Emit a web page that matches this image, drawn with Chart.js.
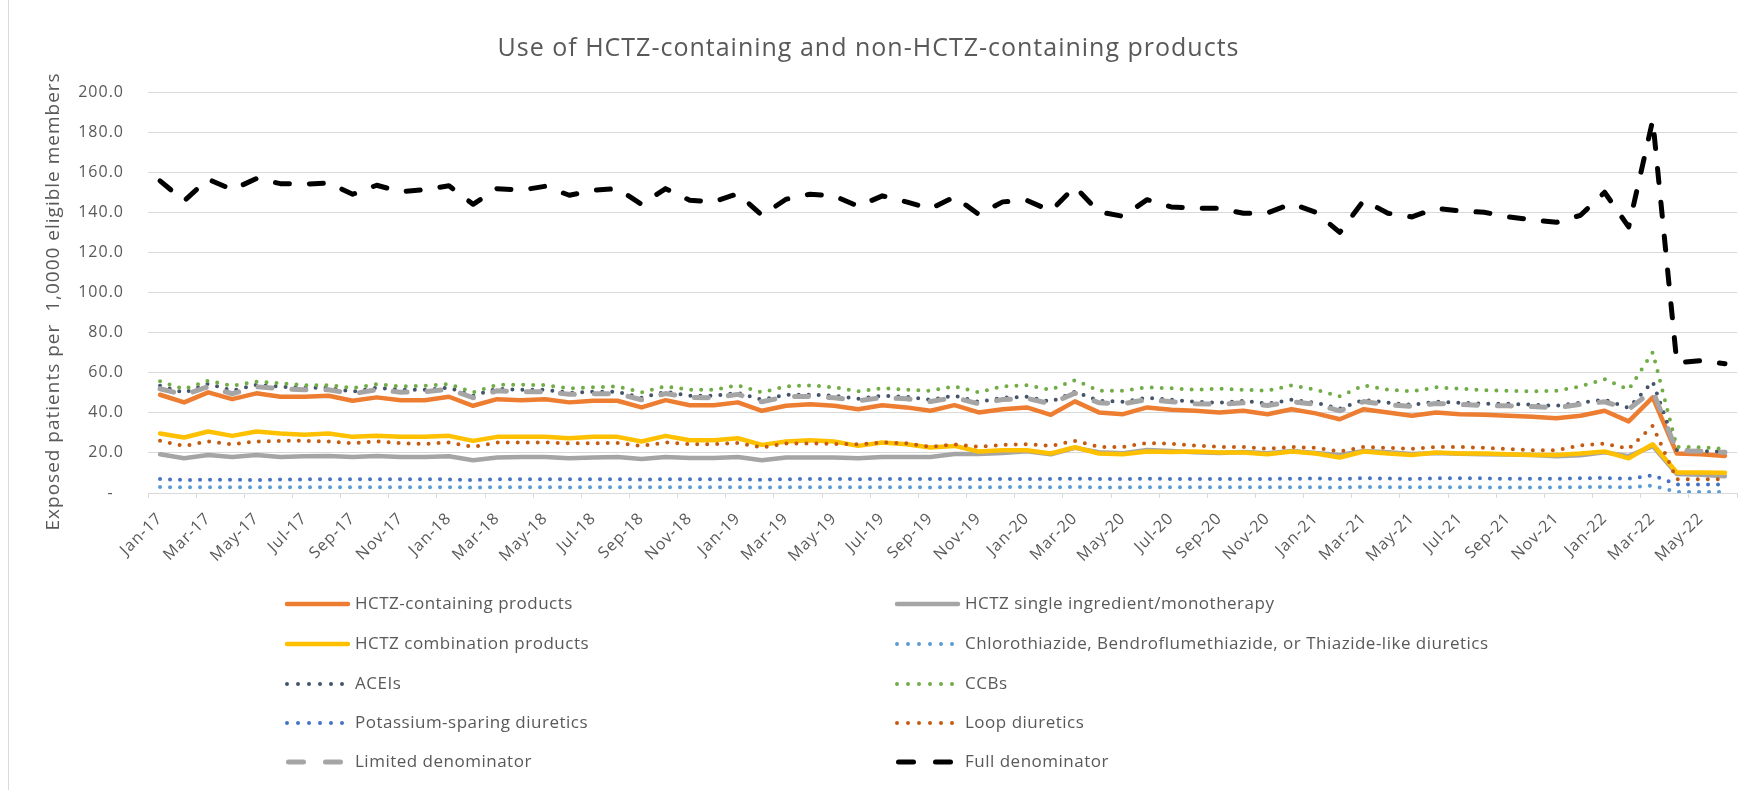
<!DOCTYPE html>
<html>
<head>
<meta charset="utf-8">
<script src="https://cdn.jsdelivr.net/npm/chart.js@4/dist/chart.umd.min.js"></script>
<style>
  html, body { margin: 0; padding: 0; background: #ffffff; }
  #wrap { width: 1758px; height: 790px; }
</style>
</head>
<body>
<div id="wrap"><canvas id="c" width="1758" height="790"></canvas></div>
<script>
const months = [
  'Jan-17','Feb-17','Mar-17','Apr-17','May-17','Jun-17','Jul-17','Aug-17','Sep-17','Oct-17','Nov-17','Dec-17',
  'Jan-18','Feb-18','Mar-18','Apr-18','May-18','Jun-18','Jul-18','Aug-18','Sep-18','Oct-18','Nov-18','Dec-18',
  'Jan-19','Feb-19','Mar-19','Apr-19','May-19','Jun-19','Jul-19','Aug-19','Sep-19','Oct-19','Nov-19','Dec-19',
  'Jan-20','Feb-20','Mar-20','Apr-20','May-20','Jun-20','Jul-20','Aug-20','Sep-20','Oct-20','Nov-20','Dec-20',
  'Jan-21','Feb-21','Mar-21','Apr-21','May-21','Jun-21','Jul-21','Aug-21','Sep-21','Oct-21','Nov-21','Dec-21',
  'Jan-22','Feb-22','Mar-22','Apr-22','May-22','Jun-22'
];

const hctzContaining = [
  49.0,45.2,50.2,46.8,49.7,48.0,48.0,48.5,46.0,47.7,46.3,46.3,
  48.0,43.5,46.8,46.3,46.8,45.2,46.0,46.0,42.7,46.3,43.8,43.8,
  45.2,41.0,43.5,44.3,43.5,41.8,43.8,42.7,41.0,43.8,40.2,41.8,
  42.7,39.0,45.7,40.2,39.3,42.7,41.5,41.0,40.2,41.0,39.3,41.8,
  39.7,36.8,41.8,40.2,38.5,40.2,39.3,39.0,38.5,38.0,37.3,38.5,
  41.0,35.7,47.7,19.7,19.3,18.5
];
const hctzSingle = [
  19.3,17.3,19.0,18.0,19.0,18.0,18.3,18.5,18.0,18.5,18.0,18.0,
  18.3,16.3,17.7,18.0,18.0,17.3,17.7,18.0,17.0,18.0,17.5,17.5,
  18.0,16.3,17.7,17.7,17.7,17.3,18.0,18.0,18.0,19.5,19.5,20.0,
  20.8,19.3,22.5,20.3,19.8,21.5,21.0,20.3,20.0,20.5,19.8,21.0,
  20.0,19.0,21.0,20.3,19.5,20.0,19.6,19.3,19.2,19.0,18.3,18.8,
  20.3,18.4,23.4,9.5,9.1,8.4
];
const hctzCombination = [
  29.7,27.7,30.7,28.5,30.7,29.7,29.0,29.7,28.0,28.5,28.0,28.0,
  28.5,26.0,28.0,28.0,28.0,27.3,28.0,28.0,25.7,28.5,26.3,26.3,
  27.3,24.0,25.7,26.3,25.7,23.5,25.2,24.3,22.7,23.5,20.7,21.3,
  21.3,19.7,22.8,19.7,19.3,20.7,20.5,20.7,20.2,20.2,19.3,20.7,
  19.7,17.7,20.7,19.7,19.0,20.2,19.7,19.7,19.3,19.0,19.0,19.7,
  20.7,17.3,24.3,10.2,10.2,10.1
];
const chlorothiazide = [
  3.0,2.8,2.9,2.8,2.9,2.9,2.9,2.9,2.8,2.9,2.9,2.9,
  2.9,2.7,2.9,2.9,2.9,2.8,2.9,2.9,2.8,2.9,2.9,2.9,
  2.9,2.7,2.9,2.9,2.9,2.8,2.9,2.9,2.8,2.9,2.8,2.9,
  3.0,2.8,3.1,2.8,2.8,2.9,2.9,2.9,2.9,2.9,2.8,2.9,
  2.9,2.7,3.0,2.9,2.8,2.9,2.9,2.8,2.8,2.8,2.8,2.9,
  3.0,2.8,3.7,0.5,0.5,0.5
];
const aceis = [
  53.5,50.0,54.5,51.0,54.0,53.0,52.5,52.5,50.5,52.5,51.5,51.5,
  52.5,48.5,52.0,51.5,51.5,50.0,50.5,50.5,47.5,50.5,48.5,48.5,
  50.0,46.5,49.0,49.0,48.5,47.0,48.5,48.0,46.5,48.5,45.5,47.5,
  48.0,45.5,50.5,46.0,45.5,47.5,46.5,45.5,45.0,46.0,44.5,46.5,
  45.0,42.0,46.5,45.0,44.0,45.5,45.0,44.5,44.5,44.0,43.5,45.0,
  46.5,42.5,55.5,21.5,21.0,20.5
];
const ccbs = [
  55.7,51.8,56.0,53.5,55.5,54.8,53.8,53.8,52.3,54.3,53.2,53.5,
  54.3,50.2,54.0,54.0,53.8,52.2,52.7,53.2,50.2,53.2,51.5,51.5,
  53.7,50.2,53.2,53.7,52.7,50.7,52.3,51.5,51.0,53.2,50.2,53.2,
  53.7,51.5,56.3,51.0,51.0,52.7,52.2,51.5,52.0,51.5,51.0,53.7,
  51.5,48.2,53.7,51.5,50.7,52.7,52.0,51.3,51.0,50.7,51.0,53.2,
  56.8,51.5,70.2,23.0,22.8,22.0
];
const potassiumSparing = [
  7.0,6.5,6.6,6.6,6.5,6.7,6.8,6.8,6.8,6.8,6.8,6.8,
  6.8,6.5,6.8,6.9,6.9,6.8,6.9,6.9,6.7,6.9,6.9,6.9,
  6.9,6.6,6.9,7.0,7.0,6.9,7.0,7.0,7.0,7.0,6.9,7.0,
  7.0,7.0,7.2,7.0,7.0,7.1,7.0,7.0,7.0,7.0,7.0,7.1,
  7.3,7.0,7.4,7.2,7.0,7.3,7.4,7.3,7.1,7.1,7.1,7.3,
  7.5,7.1,8.8,4.3,4.2,4.2
];
const loopDiuretics = [
  26.0,23.5,25.7,24.3,25.7,26.0,26.0,25.7,24.8,25.7,24.8,24.5,
  25.2,23.0,25.2,25.2,25.2,24.8,24.8,25.0,23.5,25.2,24.3,24.3,
  25.0,22.7,24.7,24.7,24.5,24.3,25.2,24.8,23.0,24.3,23.0,24.0,
  24.3,23.5,26.0,23.0,23.0,25.0,24.5,23.7,23.0,23.0,22.0,23.0,
  22.5,20.7,23.0,22.5,22.0,23.0,23.0,22.5,22.0,21.3,21.3,23.7,
  24.7,22.0,33.5,6.8,6.8,6.8
];
const limitedDenominator = [
  52.0,49.0,53.0,49.5,53.0,52.0,51.5,51.5,49.5,51.5,50.3,50.5,
  51.8,47.5,51.0,50.5,50.5,49.2,49.5,49.5,46.5,49.6,47.6,47.5,
  49.2,45.5,48.0,48.2,47.5,46.0,47.6,47.0,45.6,47.6,44.5,46.6,
  47.2,44.5,49.8,45.0,44.5,46.6,45.5,44.5,44.2,45.0,43.6,45.6,
  44.2,41.0,45.6,44.0,43.2,44.6,44.2,43.6,43.5,43.1,42.5,44.2,
  45.5,41.8,51.0,21.0,20.8,20.3
];
const fullDenominator = [
  155.7,145.7,156.5,151.3,156.8,154.3,154.0,154.7,149.0,153.5,150.2,151.3,
  153.2,144.0,151.8,151.0,153.0,148.5,151.0,151.8,144.0,151.8,146.0,145.2,
  149.3,138.5,146.5,149.0,148.2,143.0,148.2,145.2,141.8,147.7,139.0,145.2,
  146.0,140.7,152.7,140.2,138.0,146.3,142.7,142.0,142.0,139.5,139.7,144.3,
  140.0,130.0,146.0,139.5,137.7,142.0,140.7,140.0,137.7,136.3,135.0,138.5,
  150.0,132.7,186.0,65.0,66.0,64.5
];
const yTicks = [0, 20, 40, 60, 80, 100, 120, 140, 160, 180, 200];

const FONT = '"Open Sans", "Noto Sans", sans-serif';
const TEXT = '#595959';

const solid = (label, data, color) => ({
  label, data, borderColor: color, backgroundColor: color, borderWidth: 4.5,
  borderCapStyle: 'round', borderJoinStyle: 'round', legendDash: []
});
const dotted = (label, data, color) => ({
  label, data, borderColor: color, backgroundColor: color, borderWidth: 4,
  borderDash: [0, 10], borderCapStyle: 'round', borderJoinStyle: 'round', legendDash: [0, 11]
});
const dashed = (label, data, color) => ({
  label, data, borderColor: color, backgroundColor: color, borderWidth: 5,
  borderDash: [14, 20], borderCapStyle: 'round', borderJoinStyle: 'round', legendDash: [15, 22]
});

const datasets = [
  solid('HCTZ-containing products', hctzContaining, '#ED7D31'),
  solid('HCTZ single ingredient/monotherapy', hctzSingle, '#A5A5A5'),
  solid('HCTZ combination products', hctzCombination, '#FFC000'),
  dotted('Chlorothiazide, Bendroflumethiazide, or Thiazide-like diuretics', chlorothiazide, '#5B9BD5'),
  dotted('ACEIs', aceis, '#44546A'),
  dotted('CCBs', ccbs, '#70AD47'),
  dotted('Potassium-sparing diuretics', potassiumSparing, '#4472C4'),
  dotted('Loop diuretics', loopDiuretics, '#C55A11'),
  dashed('Limited denominator', limitedDenominator, '#A5A5A5'),
  dashed('Full denominator', fullDenominator, '#000000')
];
datasets.forEach((d, i) => {
  d.order = datasets.length - i;
  d.pointRadius = 0;
  d.pointHoverRadius = 0;
  d.tension = 0;
  d.fill = false;
});

const spacingPlugin = {
  id: 'spacing',
  beforeDraw(chart) {
    const ctx = chart.ctx;
    ctx.letterSpacing = '1px';
    ctx.save();
    ctx.strokeStyle = '#D9D9D9';
    ctx.lineWidth = 1;
    ctx.beginPath();
    ctx.moveTo(8.5, 0);
    ctx.lineTo(8.5, chart.height);
    ctx.stroke();
    ctx.restore();
  }
};

const legendPlugin = {
  id: 'gridLegend',
  afterDraw(chart) {
    const ctx = chart.ctx;
    const rowsY = [604, 644, 684, 723, 762];
    const colX = [287, 897];
    chart.data.datasets.forEach((ds, i) => {
      const col = i % 2, row = Math.floor(i / 2);
      const x0 = colX[col], x1 = x0 + 61;
      const y = rowsY[row];
      ctx.save();
      ctx.strokeStyle = ds.borderColor;
      ctx.lineWidth = ds.borderWidth;
      ctx.lineCap = 'round';
      ctx.setLineDash(ds.legendDash);
      ctx.beginPath();
      ctx.moveTo(x0 + (ds.legendDash.length && ds.legendDash[0] > 0 ? 1.5 : 0), y);
      ctx.lineTo(x1, y);
      ctx.stroke();
      ctx.setLineDash([]);
      ctx.letterSpacing = '0.5px';
      ctx.fillStyle = TEXT;
      ctx.font = '17px ' + FONT;
      ctx.textBaseline = 'middle';
      ctx.textAlign = 'left';
      ctx.fillText(ds.label, x1 + 7, y);
      ctx.restore();
    });
  }
};

new Chart(document.getElementById('c'), {
  type: 'line',
  data: { labels: months, datasets },
  options: {
    responsive: false,
    devicePixelRatio: 1,
    animation: false,
    events: [],
    layout: { padding: { left: 0, right: 21, top: 0, bottom: 0 } },
    plugins: {
      legend: { display: false },
      tooltip: { enabled: false },
      title: {
        display: true,
        text: 'Use of HCTZ-containing and non-HCTZ-containing products',
        color: TEXT,
        font: { family: FONT, size: 25, weight: 'normal' },
        padding: { top: 34, bottom: 28 }
      }
    },
    scales: {
      x: {
        type: 'category',
        offset: true,
        grid: {
          display: true,
          drawOnChartArea: false,
          drawTicks: true,
          tickLength: 5,
          offset: true,
          color: (c) => (c.index === undefined || c.index % 2 === 0) ? '#D9D9D9' : 'rgba(0,0,0,0)'
        },
        border: { display: true, color: '#D9D9D9', width: 1 },
        ticks: {
          autoSkip: false,
          minRotation: 45,
          maxRotation: 45,
          padding: 11,
          color: TEXT,
          font: { family: FONT, size: 16 },
          callback: (v, i) => (i % 2 === 0 ? months[i] : '')
        },
        afterFit: (s) => { s.height = 790 - 493; }
      },
      y: {
        min: 0,
        max: 200,
        afterBuildTicks: (s) => { s.ticks = yTicks.map(v => ({ value: v })); },
        grid: { color: '#D9D9D9', lineWidth: 1, drawTicks: false },
        border: { display: false },
        ticks: {
          padding: 24,
          color: TEXT,
          font: { family: FONT, size: 16 },
          callback: (v) => (v === 0 ? '-  ' : Number(v).toFixed(1))
        },
        title: {
          display: true,
          text: 'Exposed patients per  1,0000 eligible members   ',
          color: TEXT,
          font: { family: FONT, size: 19, weight: 'normal' },
          padding: { top: 42, bottom: 0 }
        },
        afterFit: (s) => { s.width = 148; }
      }
    }
  },
  plugins: [spacingPlugin, legendPlugin]
});
</script>
</body>
</html>
